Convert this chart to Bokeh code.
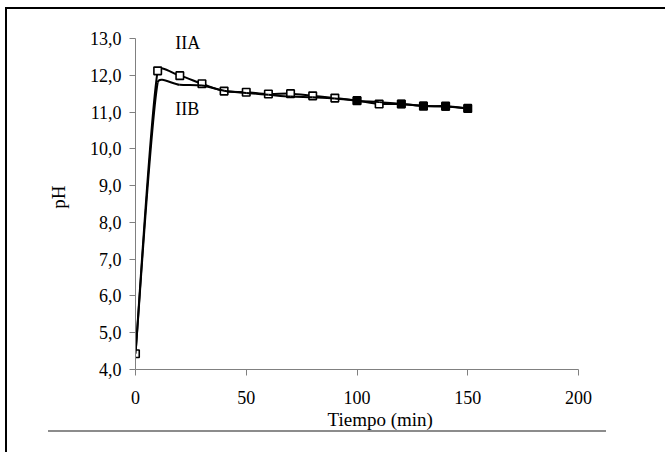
import numpy as np
from bokeh.plotting import figure
from bokeh.models import ColumnDataSource, Range1d, FixedTicker, Title
from bokeh.core.properties import value
from bokeh.embed import file_html
from bokeh.resources import INLINE

# ---------------- data ----------------
time_min = [0, 10, 20, 30, 40, 50, 60, 70, 80, 90, 100, 110, 120, 130, 140, 150]
ph_IIA = [4.43, 12.12, 11.99, 11.77, 11.57, 11.54, 11.49, 11.50, 11.44, 11.38,
          11.31, 11.22, 11.22, 11.16, 11.16, 11.10]
ph_IIB = [4.43, 11.80, 11.74, 11.72, 11.58, 11.52, 11.47, 11.42, 11.40, 11.37,
          11.31, 11.27, 11.22, 11.17, 11.15, 11.10]
iib_marker_time = [100, 120, 130, 140, 150]
iib_marker_ph = [11.31, 11.22, 11.17, 11.15, 11.10]

y_ticks = [4, 5, 6, 7, 8, 9, 10, 11, 12, 13]
y_tick_labels = ["4,0", "5,0", "6,0", "7,0", "8,0", "9,0", "10,0", "11,0", "12,0", "13,0"]
x_ticks = [0, 50, 100, 150, 200]
x_tick_labels = ["0", "50", "100", "150", "200"]

series_labels = ["IIA", "IIB"]
label_anchor_time = [18, 18]
label_anchor_ph = [12.88, 11.08]

# ---------------- layout ----------------
W, H = 663, 445
FW, FH_AXIS = 443, 331
EXTRA_TOP = 14
ML, MT = 130, 17
MR = W - ML - FW
MB = H - MT - EXTRA_TOP - FH_AXIS
X0, X1, Y0, YTOP = 0, 200, 4, 13
sx = FW / (X1 - X0)
sy = FH_AXIS / (YTOP - Y0)
Y1 = YTOP + EXTRA_TOP / sy
FONT = "Liberation Serif"

p = figure(width=W, height=H, output_backend="svg", toolbar_location=None,
           x_range=Range1d(X0, X1), y_range=Range1d(Y0, Y1),
           min_border_left=ML, min_border_right=MR, min_border_top=MT,
           min_border_bottom=MB)
p.outline_line_color = None
p.background_fill_color = None
p.border_fill_color = None
p.grid.visible = False
p.styles = {
    "margin-left": "5px", "margin-top": "7px",
    "clip-path": "inset(0px 3px 0px 0px)",
    "background-image": ("linear-gradient(#000, #000), linear-gradient(#000, #000), "
                         "linear-gradient(#8c8c8c, #8c8c8c)"),
    "background-repeat": "no-repeat",
    "background-size": "100% 2px, 2px 100%, 558px 2px",
    "background-position": "0px 0px, 0px 0px, 43px 423px",
}

for ax in (p.xaxis[0], p.yaxis[0]):
    ax.axis_line_color = "#808080"
    ax.major_tick_line_color = "#808080"
    ax.minor_tick_line_color = None
    ax.major_tick_in = 0
    ax.major_tick_out = 6
    ax.major_label_text_font = FONT
    ax.major_label_text_font_size = "18px"
    ax.major_label_text_color = "black"
    ax.axis_label_text_font = FONT
    ax.axis_label_text_font_size = "19px"
    ax.axis_label_text_font_style = "normal"
    ax.axis_label_text_color = "black"

p.yaxis.bounds = (Y0, YTOP)
p.yaxis.ticker = FixedTicker(ticks=y_ticks)
p.yaxis.major_label_overrides = dict(zip(y_ticks, y_tick_labels))
p.xaxis.ticker = FixedTicker(ticks=x_ticks)
p.xaxis.major_label_overrides = dict(zip(x_ticks, x_tick_labels))
p.yaxis.axis_label = "pH"
p.yaxis.major_label_standoff = 8
p.yaxis.axis_label_standoff = 18
p.xaxis.major_label_standoff = 15

p.add_layout(Title(text="Tiempo (min)", align="left", offset=192,
                   text_font=FONT, text_font_size="19px",
                   text_font_style="normal", text_color="black",
                   standoff=0), "below")


# spreadsheet-style smoothed line, built in screen proportions
def smooth(xs, ys):
    P = np.column_stack([np.asarray(xs, float) * sx, np.asarray(ys, float) * sy])
    n = len(P)
    L = np.linalg.norm(P[1:] - P[:-1], axis=1)
    T = np.zeros_like(P)
    for i in range(n):
        if i == 0:
            d = (P[1] - P[0]) / 2
        elif i == n - 1:
            d = (P[-1] - P[-2]) / 2
        else:
            d = (P[i + 1] - P[i - 1]) / 2
        T[i] = d
    c0 = np.zeros((n - 1, 2))
    c1 = np.zeros((n - 1, 2))
    for i in range(n - 1):
        for j, (pt, sgn, tgt) in enumerate(((P[i], 1, T[i]), (P[i + 1], -1, T[i + 1]))):
            m = min(np.linalg.norm(tgt) / 3, L[i] / 3)
            c = pt + sgn * tgt / np.linalg.norm(tgt) * m
            if j == 0:
                c0[i] = c
            else:
                c1[i] = c
    k = np.array([sx, sy])
    A, B, C0, C1 = P[:-1] / k, P[1:] / k, c0 / k, c1 / k
    return dict(x0=A[:, 0], y0=A[:, 1], x1=B[:, 0], y1=B[:, 1],
                cx0=C0[:, 0], cy0=C0[:, 1], cx1=C1[:, 0], cy1=C1[:, 1])


p.bezier(source=ColumnDataSource(smooth(time_min, ph_IIA)), x0="x0", y0="y0",
         x1="x1", y1="y1", cx0="cx0", cy0="cy0", cx1="cx1", cy1="cy1",
         line_color="black", line_width=2)
p.scatter(time_min, ph_IIA, marker="square", size=7.5, fill_color="white",
          line_color="black", line_width=1.6)
p.bezier(source=ColumnDataSource(smooth(time_min, ph_IIB)), x0="x0", y0="y0",
         x1="x1", y1="y1", cx0="cx0", cy0="cy0", cx1="cx1", cy1="cy1",
         line_color="black", line_width=2)
p.scatter(iib_marker_time, iib_marker_ph, marker="square", size=7.5,
          fill_color="black", line_color="black", line_width=1)

p.text(x=label_anchor_time, y=label_anchor_ph, text=series_labels,
       text_font=value(FONT), text_font_size="18px", text_color="black",
       text_align="left", text_baseline="middle")

open("out.html", "w").write(file_html(p, INLINE))
